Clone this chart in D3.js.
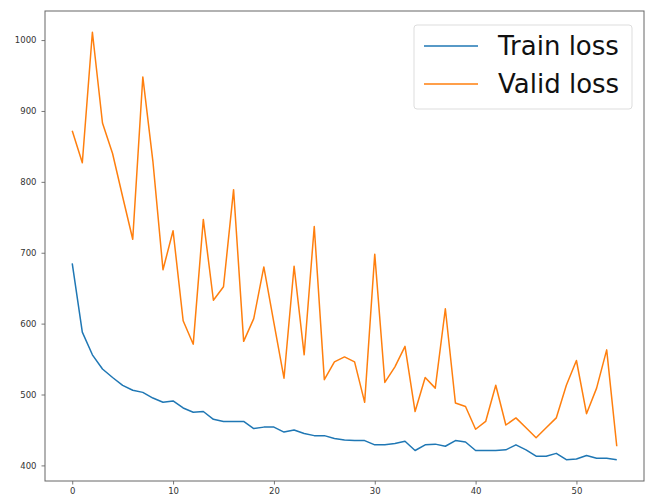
<!DOCTYPE html>
<html>
<head>
<meta charset="utf-8">
<script src="https://cdn.jsdelivr.net/npm/d3@7"></script>
<style>
  body { margin: 0; background: #fff; }
  text { font-family: "DejaVu Sans", sans-serif; }
</style>
</head>
<body>
<svg width="648" height="497"></svg>
<script>
const trainLoss = [685, 588, 556, 536, 524, 513, 506, 503, 495, 489,
  491, 481, 475, 476, 465, 462, 462, 462, 452, 454,
  454, 447, 450, 445, 442, 442, 438, 436, 435, 435,
  429, 429, 431, 434, 421, 429, 430, 427, 435, 433,
  421, 421, 421, 422, 429, 422, 413, 413, 417, 408,
  409, 414, 410, 410, 408];
const validLoss = [872, 827, 1011, 883, 840, 779, 719, 948, 829, 676,
  731, 604, 571, 747, 633, 652, 789, 575, 607, 680,
  601, 523, 681, 556, 737, 521, 546, 553, 546, 489,
  698, 517, 539, 568, 476, 524, 509, 621, 488, 483,
  451, 462, 513, 457, 467, 453, 439, 453, 467, 513,
  548, 473, 509, 563, 427];
const seriesNames = ["Train loss", "Valid loss"];
const xTicks = [0, 10, 20, 30, 40, 50];
const yTicks = [400, 500, 600, 700, 800, 900, 1000];

const svg = d3.select("svg");
const colors = ["#1f77b4", "#ff7f0e"];

const plotLeft = 45, plotRight = 644, plotTop = 11, plotBottom = 481;

const xScale = d3.scaleLinear().domain([-2.7, 56.7]).range([plotLeft, plotRight]);
const yScale = d3.scaleLinear().domain([378, 1041]).range([plotBottom, plotTop]);

/* assi */
const xAxis = svg.append("g")
  .attr("transform", `translate(0,${plotBottom})`)
  .call(d3.axisBottom(xScale).tickValues(xTicks).tickFormat(d3.format("d"))
    .tickSize(3.5).tickPadding(3).tickSizeOuter(0));
const yAxis = svg.append("g")
  .attr("transform", `translate(${plotLeft},0)`)
  .call(d3.axisLeft(yScale).tickValues(yTicks).tickFormat(d3.format("d"))
    .tickSize(3.5).tickPadding(5).tickSizeOuter(0));

[xAxis, yAxis].forEach(ax => {
  ax.select(".domain").remove();
  ax.selectAll(".tick line").attr("stroke", "#555").attr("stroke-width", 0.8);
  ax.selectAll(".tick text").attr("fill", "#333").style("font-size", "8.5px");
});

/* cornice */
svg.append("rect")
  .attr("x", plotLeft).attr("y", plotTop)
  .attr("width", plotRight - plotLeft).attr("height", plotBottom - plotTop)
  .attr("fill", "none")
  .attr("stroke", "#666")
  .attr("stroke-width", 1);

/* linee */
const line = d3.line()
  .x((d, i) => xScale(i))
  .y(d => yScale(d));

[trainLoss, validLoss].forEach((serie, k) => {
  svg.append("path")
    .datum(serie)
    .attr("d", line)
    .attr("fill", "none")
    .attr("stroke", colors[k])
    .attr("stroke-width", 1.5)
    .attr("stroke-linejoin", "round");
});

/* legenda */
const legend = svg.append("g").attr("transform", "translate(414,25)");
legend.append("rect")
  .attr("width", 218).attr("height", 84)
  .attr("rx", 3)
  .attr("fill", "#fff")
  .attr("fill-opacity", 0.8)
  .attr("stroke", "#ddd");

seriesNames.forEach((name, k) => {
  const y = 21 + k * 38;
  legend.append("line")
    .attr("x1", 10).attr("x2", 64)
    .attr("y1", y).attr("y2", y)
    .attr("stroke", colors[k])
    .attr("stroke-width", 1.5);
  legend.append("text")
    .attr("x", 84).attr("y", y + 9)
    .attr("fill", "#111")
    .style("font-size", "26px")
    .text(name);
});
</script>
</body>
</html>
